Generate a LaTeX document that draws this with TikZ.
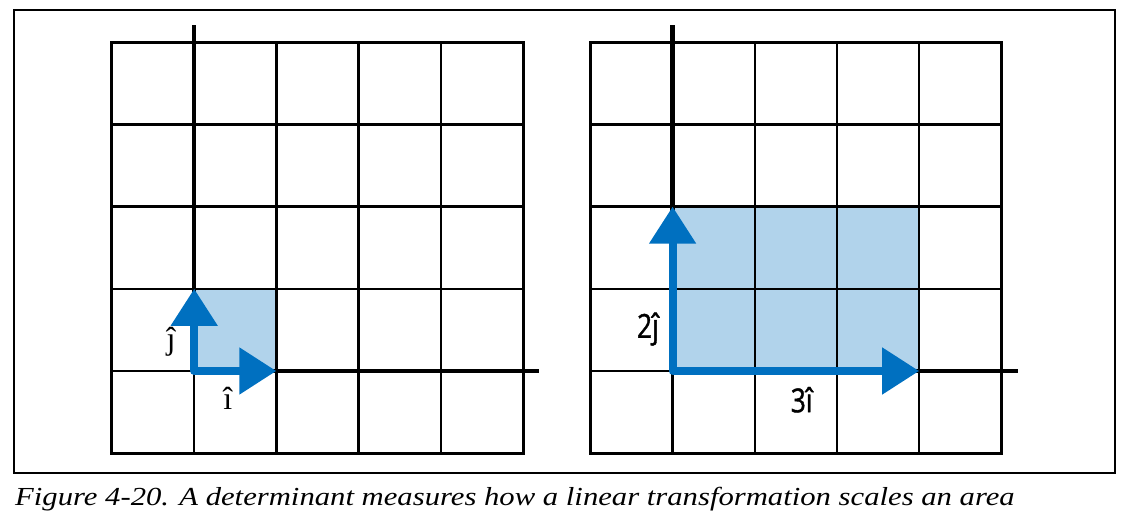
\documentclass[tikz,border=0pt]{standalone}
\usepackage{fontspec}
\setmainfont{Liberation Serif}
\newfontfamily\labelfont[FakeStretch=0.8, FakeBold=1.2]{Open Sans}
\newfontfamily\captionfont[FakeStretch=1.18]{Liberation Serif}
\usetikzlibrary{arrows.meta}
\definecolor{vecblue}{HTML}{0070C0}
\definecolor{areablue}{HTML}{B1D3EB}

\begin{document}
\begin{tikzpicture}[x=82.2pt, y=82.2pt,
    gridline/.style={line width=2.4pt, black},
    axisline/.style={line width=4.5pt, black},
    area/.style={fill=areablue},
    basisvec/.style={vecblue, line width=8pt, line join=round,
      {Triangle[length=37pt, width=45pt]}-{Triangle[length=37pt, width=45pt]}},
    veclabel/.style={inner sep=0pt, font=\fontsize{32}{32}\selectfont},
    scaledlabel/.style={inner sep=0pt, font=\labelfont\fontsize{33}{33}\selectfont}]

    \useasboundingbox (-2.3625,-1.8613) rectangle (11.421,4.5134);

    % 1. outer frame
    \draw[line width=1.3pt] (-2.192,-1.241) rectangle (11.202,4.392);

    % 2. left panel: unit square
    \begin{scope}
      \coordinate (o) at (0,0);
      \coordinate (itip) at (1,0);
      \coordinate (jtip) at (0,1);
      \fill[area] (o) rectangle (1,1);
      \draw[gridline, step=1] (-1,-1) grid (4,4);
      \draw[gridline, line width=3pt] (-1,-1) rectangle (4,4);
      \draw[axisline] (o) -- (0,4.21);
      \draw[axisline] (o) -- (4.2,0);
      \draw[basisvec] (jtip) -- (o) -- (itip);
      \node[veclabel] (jlab) at (-0.28,0.36) {ĵ};
      \node[veclabel] (ilab) at (0.41,-0.33) {î};
    \end{scope}

    % 3. right panel: scaled area
    \begin{scope}[shift={(5.82,0)}]
      \coordinate (O) at (0,0);
      \coordinate (Itip) at (3,0);
      \coordinate (Jtip) at (0,2);
      \fill[area] (O) rectangle (3,2);
      \draw[gridline, step=1] (-1,-1) grid (4,4);
      \draw[gridline, line width=3pt] (-1,-1) rectangle (4,4);
      \draw[axisline] (O) -- (0,4.21);
      \draw[axisline] (O) -- (4.2,0);
      \draw[basisvec] (Jtip) -- (O) -- (Itip);
      \node[scaledlabel] (Jlab) at (-0.30,0.51) {2ĵ};
      \node[scaledlabel] (Ilab) at (1.57,-0.35) {3î};
    \end{scope}

    % 4. caption
    \node[anchor=base west, inner sep=0pt, font=\captionfont\fontsize{26}{26}\selectfont\itshape]
        (caption) at (-2.18,-1.642) {Figure 4-20. A determinant measures how a linear transformation scales an area};

\end{tikzpicture}
\end{document}
